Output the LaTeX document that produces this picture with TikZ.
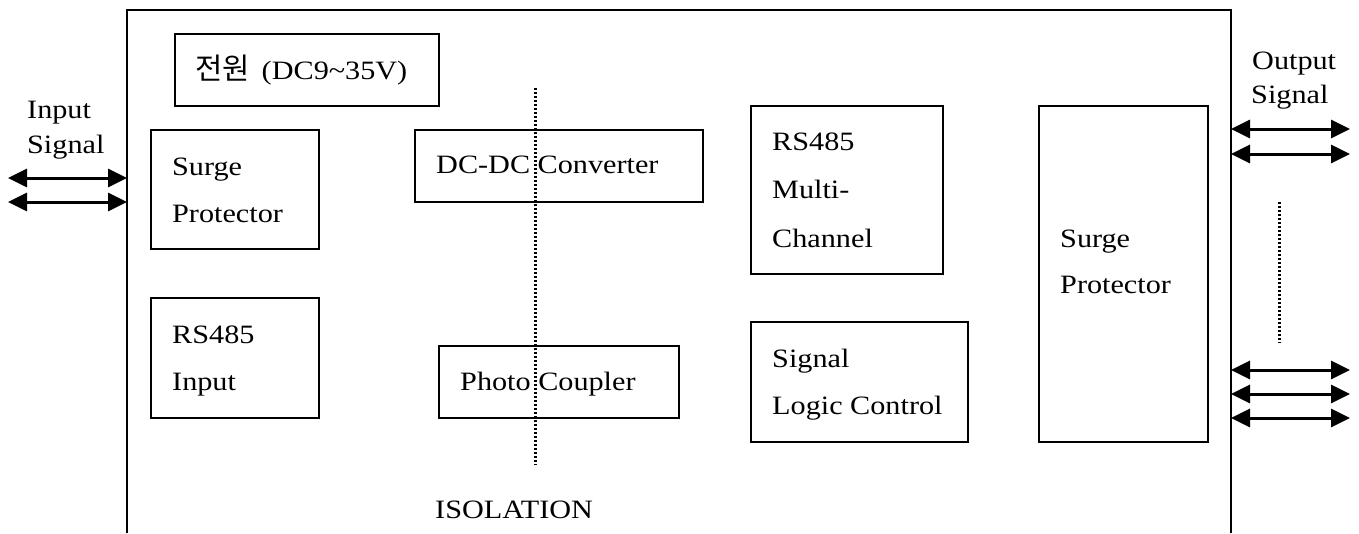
\documentclass[tikz,border=0pt]{standalone}
\usepackage{fontspec}
\setmainfont{Liberation Serif}[FakeStretch=1.14]
\newfontfamily\krfont{Noto Sans CJK KR}[Scale=1.12]
\usetikzlibrary{arrows.meta}
\tikzset{
  box/.style={draw, line width=2.2pt, rectangle, inner sep=0pt},
  lbl/.style={anchor=base west, inner sep=0pt, font=\fontsize{26.5}{30}\selectfont},
  frame/.style={line width=2.2pt},
  sig/.style={line width=3pt, {Triangle[length=19pt,width=18pt]}-{Triangle[length=19pt,width=18pt]}},
  iso/.style={line width=3pt, dash pattern=on 2.4pt off 1.6pt},
}
\begin{document}
\begin{tikzpicture}[x=1pt,y=-1pt]
\useasboundingbox (0,0) rectangle (1359,533);
% frame
\coordinate (fbl) at (127,533);
\coordinate (ftl) at (127,10);
\coordinate (ftr) at (1231,10);
\coordinate (fbr) at (1231,533);
\draw[frame] (fbl) -- (ftl) -- (ftr) -- (fbr);
% boxes
\node[box, minimum width=264pt, minimum height=72pt] (pwr) at (307,70) {};
\node[box, minimum width=168pt, minimum height=119pt] (surgeL) at (235,189.5) {};
\node[box, minimum width=168pt, minimum height=120pt] (rsin) at (235,358) {};
\node[box, minimum width=288pt, minimum height=72pt] (dcdc) at (559,166) {};
\node[box, minimum width=240pt, minimum height=72pt] (photo) at (559,382) {};
\node[box, minimum width=192pt, minimum height=168pt] (multi) at (847,190) {};
\node[box, minimum width=217pt, minimum height=120pt] (logic) at (859.5,382) {};
\node[box, minimum width=169pt, minimum height=336pt] (surgeR) at (1123.5,274) {};
% texts
\node[lbl] (tpwr) at (195,79) {{\krfont 전원}\hspace{0.45em}(DC9\textasciitilde 35V)};
\node[lbl] (ts1) at (172,175) {Surge};
\node[lbl] (ts2) at (172,222) {Protector};
\node[lbl] (tr1) at (172,343) {RS485};
\node[lbl] (tr2) at (172,390) {Input};
\node[lbl] (tdc) at (436,173) {DC-DC Converter};
\node[lbl] (tph) at (460,390) {Photo Coupler};
\node[lbl] (tiso) at (435,518) {ISOLATION};
\node[lbl] (tm1) at (772,150) {RS485};
\node[lbl] (tm2) at (772,198) {Multi-};
\node[lbl] (tm3) at (772,247) {Channel};
\node[lbl] (tl1) at (772,367) {Signal};
\node[lbl] (tl2) at (772,414) {Logic Control};
\node[lbl] (tsr1) at (1060,247) {Surge};
\node[lbl] (tsr2) at (1060,293) {Protector};
\node[lbl] (tin1) at (27,118) {Input};
\node[lbl] (tin2) at (27,153) {Signal};
\node[lbl] (tout1) at (1252,69) {Output};
\node[lbl] (tout2) at (1251,103) {Signal};
% isolation line
\coordinate (isoT) at (535,88);
\coordinate (isoB) at (535,465);
\draw[iso] (isoT) -- (isoB);
\coordinate (dotT) at (1279,202);
\coordinate (dotB) at (1279,343);
\draw[iso] (dotT) -- (dotB);
% input arrows
\coordinate (inA1) at (8,178);
\coordinate (inB1) at (127,178);
\coordinate (inA2) at (8,202);
\coordinate (inB2) at (127,202);
\draw[sig] (inA1) -- (inB1);
\draw[sig] (inA2) -- (inB2);
% output arrows
\foreach \n/\y in {1/129,2/154,3/370,4/394,5/418}{
  \coordinate (oA\n) at (1231,\y);
  \coordinate (oB\n) at (1350,\y);
  \draw[sig] (oA\n) -- (oB\n);
}
\end{tikzpicture}
\end{document}
